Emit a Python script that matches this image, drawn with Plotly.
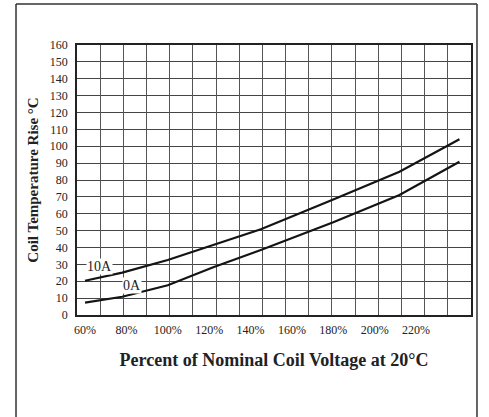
import plotly.graph_objects as go

# Data
voltage_pct = [60, 78, 100, 122, 145, 180, 212, 241]
rise_10A = [20.3, 25.1, 32.6, 41.5, 50.8, 68.5, 84.9, 104.1]
rise_0A = [7.3, 10.8, 17.6, 28.3, 38.5, 55.0, 71.1, 90.8]

x_tick_vals = [60, 80, 100, 120, 140, 160, 180, 200, 220]
x_tick_text = ["60%", "80%", "100%", "120%", "140%", "160%", "180%", "200%", "220%"]
y_tick_vals = list(range(0, 161, 10))

series_labels = ["10A", "0A"]
label_pos_x = [67, 82.5]
label_pos_y = [29, 17.5]

FONT = "Liberation Serif, Times New Roman, serif"

fig = go.Figure()
fig.add_trace(go.Scatter(x=voltage_pct, y=rise_10A, mode="lines",
                         line=dict(color="#141414", width=2.2), name="10A"))
fig.add_trace(go.Scatter(x=voltage_pct, y=rise_0A, mode="lines",
                         line=dict(color="#141414", width=2.2), name="0A"))
# invisible trace to activate the grid axis
fig.add_trace(go.Scatter(x=[0, 17], y=[0, 0], xaxis="x2", mode="lines",
                         line=dict(width=0), hoverinfo="skip", showlegend=False))

for lab, lx, ly in zip(series_labels, label_pos_x, label_pos_y):
    fig.add_annotation(x=lx, y=ly, text=lab, showarrow=False,
                       font=dict(family=FONT, size=14, color="#222"),
                       bgcolor="white", borderpad=0)

box_line = dict(color="#333", width=1.5)
fig.update_layout(
    width=489, height=417,
    margin=dict(l=77, r=18, t=45, b=102),
    paper_bgcolor="white", plot_bgcolor="white",
    showlegend=False,
    font=dict(family=FONT, color="#222"),
    xaxis=dict(range=[56.13, 246.58], tickvals=x_tick_vals, ticktext=x_tick_text,
               showgrid=False, zeroline=False, showline=True, linecolor="#222",
               linewidth=1.5, mirror=True, ticks="", ticklabelstandoff=3,
               tickfont=dict(size=12),
               title=dict(text="<b>Percent of Nominal Coil Voltage at 20°C</b>",
                          font=dict(size=18, family=FONT), standoff=17)),
    xaxis2=dict(range=[0, 17], overlaying="x", tickvals=list(range(1, 17)),
                showticklabels=False, showgrid=True, gridcolor="#555",
                gridwidth=1, zeroline=False, showline=False, ticks=""),
    yaxis=dict(range=[0, 160], tickvals=y_tick_vals, showgrid=True,
               gridcolor="#444", gridwidth=1, zeroline=False, showline=True,
               linecolor="#222", linewidth=1.5, mirror=True, ticks="",
               ticklabelstandoff=5, tickfont=dict(size=12),
               title=dict(text="<b>Coil Temperature Rise °C</b>",
                          font=dict(size=15, family=FONT), standoff=8)),
    shapes=[
        dict(type="line", xref="paper", yref="paper", ysizemode="pixel", yanchor=1,
             x0=-0.1548, x1=1.0152, y0=41, y1=41, line=box_line),
        dict(type="line", xref="paper", yref="paper", ysizemode="pixel", yanchor=1,
             x0=-0.1548, x1=-0.1548, y0=41, y1=-390, line=box_line),
        dict(type="line", xref="paper", yref="paper", ysizemode="pixel", yanchor=1,
             x0=1.0152, x1=1.0152, y0=41, y1=-390, line=box_line),
    ],
)

fig.write_html("out.html", config={"displayModeBar": False},
               post_script="document.body.style.margin='0';")
